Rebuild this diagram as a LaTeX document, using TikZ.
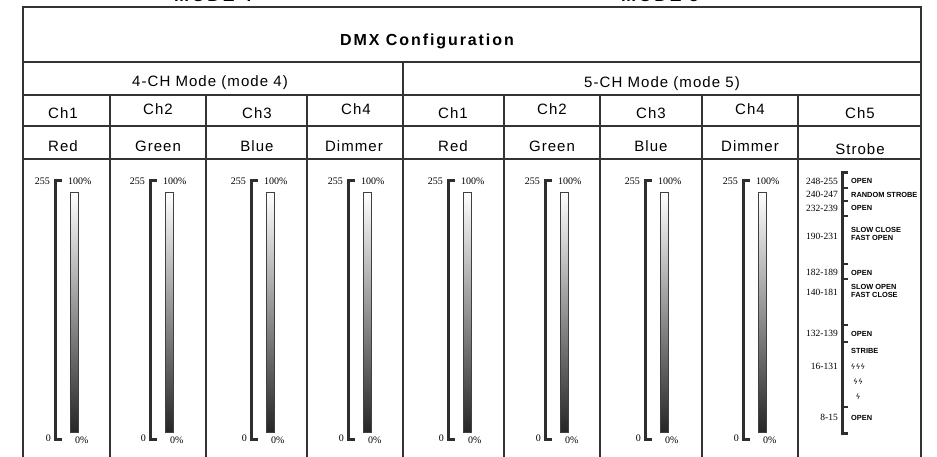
\documentclass[tikz,border=0pt]{standalone}
\usepackage{fontspec}
\setmainfont{Liberation Sans}
\newfontfamily\tabfont[LetterSpace=7]{Liberation Sans}
\newfontfamily\widefont[LetterSpace=12]{Liberation Sans}
\newfontfamily\numfont{Liberation Serif}
\newfontfamily\symfont{DejaVu Sans}
\usetikzlibrary{calc}

\tikzset{
  rule/.style={line width=1.4pt, color=black!80},
  cell/.style={inner sep=0pt, anchor=base, font=\tabfont\fontsize{15}{17}\selectfont},
  headline/.style={inner sep=0pt, anchor=base, font=\widefont\bfseries\fontsize{16}{18}\selectfont},
  scalelabel/.style={inner sep=0pt, font=\numfont\fontsize{10}{11}\selectfont},
  rangelabel/.style={inner sep=0pt, anchor=east, font=\numfont\fontsize{9.5}{10}\selectfont},
  stepnote/.style={inner sep=0pt, anchor=west, align=left, font=\bfseries\fontsize{7.4}{8.6}\selectfont},
  bolt/.style={inner sep=0pt, font=\symfont\itshape\fontsize{7.5}{8}\selectfont},
  bracket/.style={line width=3pt, color=black!82},
}
% one fader column: bracket at x = #1, node names end in #2
\def\fader(#1)#2{%
  \node[scalelabel, anchor=east] (max#2) at (#1-5, 181) {255};
  \node[scalelabel, anchor=west] (full#2) at (#1+13, 181) {100\%};
  \node[scalelabel, anchor=east] (min#2) at (#1-4, 438) {0};
  \node[scalelabel, anchor=west] (off#2) at (#1+20, 440) {0\%};
  \draw[bracket] (#1+7, 181) -- (#1, 181) -- (#1, 439) -- (#1+7, 439);
  \shade[top color=white, bottom color=black!85, draw=black!75, line width=0.7pt] (#1+15, 192) rectangle (#1+23, 432);
}

\begin{document}
\begin{tikzpicture}[x=1pt, y=-1pt]
		%%%%% START %%%%%
		\useasboundingbox (0, 0) rectangle (937, 457);
		\clip (0, 0) rectangle (937, 457);
		
		\node[headline, font=\widefont\bfseries\fontsize{18}{20}\selectfont] (modefour) at (213, 2) {MODE 4};
		\node[headline, font=\widefont\bfseries\fontsize{18}{20}\selectfont] (modefive) at (660, 2) {MODE 5};
		
		% frame and rules
		\draw[rule] (23, 457) -- (23, 7) -- (921, 7) -- (921, 457);
		\draw[rule] (23, 62) -- (921, 62);
		\draw[rule] (23, 95) -- (921, 95);
		\draw[rule] (23, 126) -- (921, 126);
		\draw[rule] (23, 159) -- (921, 159);
		\draw[rule] (403, 62) -- (403, 457);
		\draw[rule] (110, 95) -- (110, 457) (206, 95) -- (206, 457) (307, 95) -- (307, 457);
		\draw[rule] (504, 95) -- (504, 457) (600, 95) -- (600, 457) (702, 95) -- (702, 457) (798, 95) -- (798, 457);
		
		\node[headline] (title) at (427, 46) {DMX Configuration};
		\node[cell] (fourch) at (210, 87) {4-CH Mode (mode 4)};
		\node[cell] (fivech) at (662, 88) {5-CH Mode (mode 5)};
		
		\node[cell] (chA) at (63, 119) {Ch1};
		\node[cell] (chB) at (158, 115) {Ch2};
		\node[cell] (chC) at (257, 119) {Ch3};
		\node[cell] (chD) at (356, 115) {Ch4};
		\node[cell] (chE) at (453, 119) {Ch1};
		\node[cell] (chF) at (552, 115) {Ch2};
		\node[cell] (chG) at (651, 119) {Ch3};
		\node[cell] (chH) at (750, 115) {Ch4};
		\node[cell] (chI) at (860, 119) {Ch5};
		
		\node[cell] (nameA) at (63, 152) {Red};
		\node[cell] (nameB) at (158, 152) {Green};
		\node[cell] (nameC) at (257, 152) {Blue};
		\node[cell] (nameD) at (354, 152) {Dimmer};
		\node[cell] (nameE) at (453, 152) {Red};
		\node[cell] (nameF) at (552, 152) {Green};
		\node[cell] (nameG) at (651, 152) {Blue};
		\node[cell] (nameH) at (750, 152) {Dimmer};
		\node[cell] (nameI) at (860, 155) {Strobe};
		
		\fader(55){A}
		\fader(150){B}
		\fader(251){C}
		\fader(348){D}
		\fader(448){E}
		\fader(545){F}
		\fader(645){G}
		\fader(743){H}
		
		% strobe column
		\draw[bracket] (848, 173) -- (842, 173) -- (842, 433) -- (848, 433);
		\draw[bracket, line width=2pt] (842, 188) -- (848, 188) (842, 201) -- (848, 201) (842, 216) -- (848, 216);
		\draw[bracket, line width=2pt] (842, 264) -- (848, 264) (842, 279) -- (848, 279);
		\draw[bracket, line width=2pt] (842, 325) -- (848, 325) (842, 342) -- (848, 342) (842, 407) -- (848, 407);
		
		\node[rangelabel] (rA) at (838, 181) {248-255};
		\node[rangelabel] (rB) at (838, 194) {240-247};
		\node[rangelabel] (rC) at (838, 208) {232-239};
		\node[rangelabel] (rD) at (838, 236) {190-231};
		\node[rangelabel] (rE) at (838, 272) {182-189};
		\node[rangelabel] (rF) at (838, 292) {140-181};
		\node[rangelabel] (rG) at (838, 333) {132-139};
		\node[rangelabel] (rH) at (838, 366) {16-131};
		\node[rangelabel] (rI) at (838, 417) {8-15};
		
		\node[stepnote] (sA) at (851, 181) {OPEN};
		\node[stepnote] (sB) at (851, 195) {RANDOM STROBE};
		\node[stepnote] (sC) at (851, 208) {OPEN};
		\node[stepnote] (sD) at (851, 234) {SLOW CLOSE\\FAST OPEN};
		\node[stepnote] (sE) at (851, 273) {OPEN};
		\node[stepnote] (sF) at (851, 291) {SLOW OPEN\\FAST CLOSE};
		\node[stepnote] (sG) at (851, 334) {OPEN};
		\node[stepnote] (sH) at (851, 351) {STRIBE};
		\node[bolt] (boltC) at (858, 367) {ϟϟϟ};
		\node[bolt] (boltB) at (858, 382) {ϟϟ};
		\node[bolt] (boltA) at (858, 397) {ϟ};
		\node[stepnote] (sI) at (851, 418) {OPEN};
		
		%%%%% END %%%%%
	\end{tikzpicture}
\end{document}
